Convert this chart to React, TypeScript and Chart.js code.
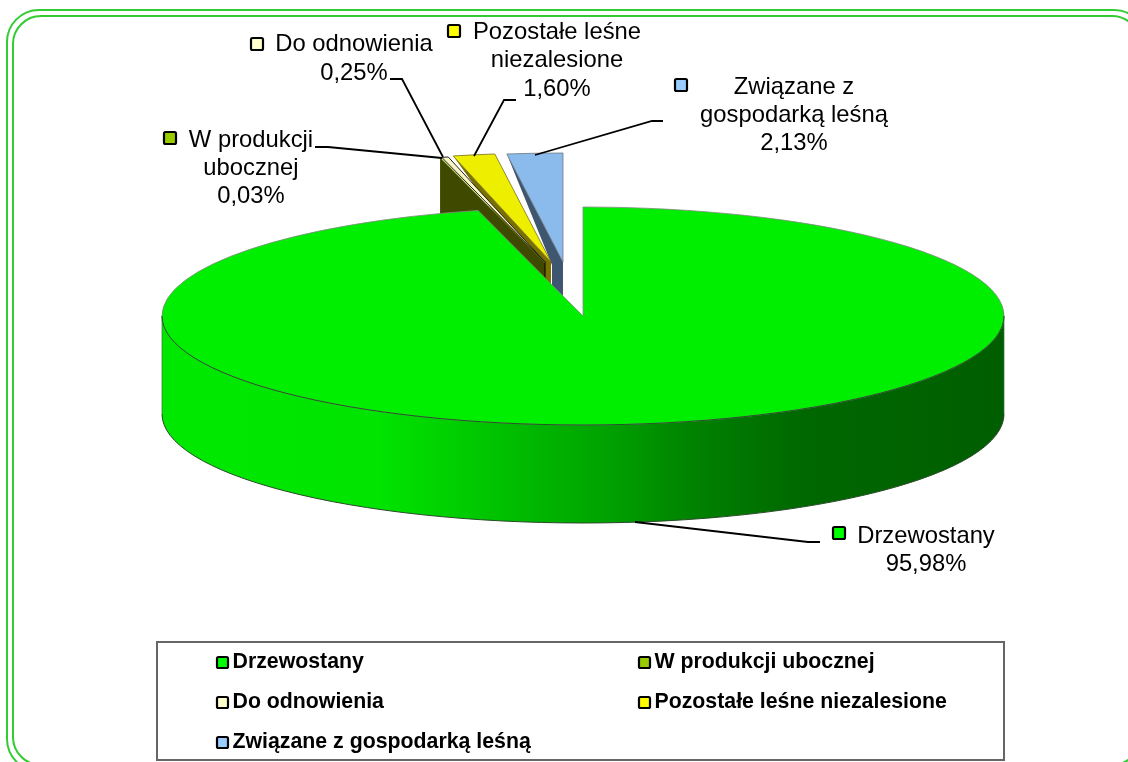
import React, { useEffect, useRef } from "react";
import { Chart, registerables } from "chart.js";

Chart.register(...registerables);

const categories = ["Drzewostany", "W produkcji ubocznej", "Do odnowienia", "Pozostałe leśne niezalesione", "Związane z gospodarką leśną"];
const values = [95.98, 0.03, 0.25, 1.6, 2.13];
const labelLines = [["Drzewostany"], ["W produkcji", "ubocznej"], ["Do odnowienia"], ["Pozostałe leśne", "niezalesione"], ["Związane z", "gospodarką leśną"]];
const topColors = ["#00EE00", "#99CC00", "#F8F4C4", "#EEEE00", "#8ABBEC"];
const markerColors = ["#00FF00", "#99CC00", "#FFFFCC", "#FFFF00", "#99CCFF"];
const wallColors = ["#00A000", "#3F4A00", "#3F4A00", "#7A7000", "#3F5670"];

// Style / layout settings
const RADIUS = 421;
const SQUASH = 109 / 421;
const DEPTH = 98;
const explode: [number, number][] = [[0, 0], [-38, -53], [-37, -53], [-32, -54], [-20, -54]];
const wallDrop = [0, 60, 0, 30, 40];
const wallStops: [number, string][] = [[162, "#00E800"], [380, "#00E400"], [450, "#00D000"], [530, "#00B800"], [600, "#00A400"], [700, "#008000"], [800, "#006800"], [1004, "#005E00"]];
const labelPos = [
  { cx: 926, y: 536, lh: 28, mx: 832, my: 526 },
  { cx: 251, y: 140, lh: 28, mx: 163, my: 131 },
  { cx: 354, y: 44, lh: 29, mx: 250, my: 37 },
  { cx: 557, y: 32, lh: 28.5, mx: 447, my: 24 },
  { cx: 794, y: 87, lh: 28, mx: 674, my: 78 },
];
const leaders: number[][][] = [
  [[820, 542], [808, 542], [635, 522]],
  [[315, 147], [328, 147], [442, 158]],
  [[390, 79], [402, 79], [443, 157]],
  [[516, 100], [504, 100], [474, 156]],
  [[663, 121], [652, 121], [535, 155]],
];
const legendCells = [
  [216, 662], [638, 662], [216, 702], [638, 702], [216, 742],
];

const FONT = '"Liberation Sans", Arial, sans-serif';

const pct = (v: number) => v.toFixed(2).replace(".", ",") + "%";

function marker(ctx: CanvasRenderingContext2D, x: number, y: number, s: number, c: string) {
  ctx.beginPath();
  ctx.roundRect(x + 1, y + 1, s - 2, s - 2, 1.5);
  ctx.fillStyle = c;
  ctx.fill();
  ctx.lineWidth = 2.2;
  ctx.strokeStyle = "#000";
  ctx.stroke();
}

const pie3d = {
  id: "pie3d",
  beforeDatasetsDraw(chart: any) {
    const ctx: CanvasRenderingContext2D = chart.ctx;
    const arcs = chart.getDatasetMeta(0).data;
    const R = arcs[0].outerRadius;
    const Ry = R * SQUASH;

    const drawArc = (i: number, extraY: number, fill?: any) => {
      const a = arcs[i];
      const base = a.options;
      if (fill) a.options = Object.assign(Object.create(base), { backgroundColor: fill });
      ctx.save();
      ctx.translate(a.x + explode[i][0], a.y + explode[i][1] + extraY);
      ctx.scale(1, SQUASH);
      ctx.translate(-a.x, -a.y);
      a.draw(ctx);
      ctx.restore();
      a.options = base;
    };
    const apex = (i: number) => [arcs[i].x + explode[i][0], arcs[i].y + explode[i][1]];
    const rim = (i: number, ang: number) => {
      const [x, y] = apex(i);
      return [x + R * Math.cos(ang), y + Ry * Math.sin(ang)];
    };
    const outline = (i: number, color: string, lw: number) => {
      const a = arcs[i];
      const [x, y] = apex(i);
      ctx.beginPath();
      ctx.moveTo(x, y);
      ctx.ellipse(x, y, R, Ry, 0, a.startAngle, a.endAngle);
      ctx.closePath();
      ctx.strokeStyle = color;
      ctx.lineWidth = lw;
      ctx.stroke();
    };
    const poly = (pts: number[][], color: string) => {
      ctx.beginPath();
      pts.forEach((p, k) => (k ? ctx.lineTo(p[0], p[1]) : ctx.moveTo(p[0], p[1])));
      ctx.closePath();
      ctx.fillStyle = color;
      ctx.fill();
    };

    // frame
    ctx.strokeStyle = "#33CC33";
    ctx.lineWidth = 2;
    ctx.beginPath();
    ctx.roundRect(7, 10, 1139, 761, 32);
    ctx.stroke();
    ctx.beginPath();
    ctx.roundRect(13, 16, 1127, 749, 28);
    ctx.stroke();

    // blue
    const blueA = apex(4);
    poly(
      [rim(4, arcs[4].startAngle), blueA, [blueA[0], blueA[1] + wallDrop[4]], [blueA[0] - 11, blueA[1] + wallDrop[4]], [blueA[0] - 11, blueA[1] + 3]],
      wallColors[4]
    );
    drawArc(4, 0);
    outline(4, "rgba(110,120,130,0.8)", 1);

    // yellow
    const yA = apex(3);
    poly([rim(3, arcs[3].startAngle), yA, [yA[0], yA[1] + wallDrop[3]]], wallColors[3]);
    drawArc(3, 0);
    outline(3, "rgba(120,110,30,0.8)", 1);

    // W produkcji wall, tops
    const wA = apex(1);
    const wR = rim(1, arcs[1].startAngle);
    poly([wR, wA, [wA[0], wA[1] + wallDrop[1]], [wR[0], wR[1] + wallDrop[1]]], wallColors[1]);
    ctx.beginPath();
    ctx.moveTo(wA[0], wA[1]);
    ctx.lineTo(wA[0], wA[1] + 16);
    ctx.strokeStyle = "#000";
    ctx.lineWidth = 1;
    ctx.stroke();
    drawArc(2, 0);
    outline(2, "#222", 1);
    drawArc(1, 0);

    // main wall
    const a0 = arcs[0];
    const grad = ctx.createLinearGradient(wallStops[0][0], 0, wallStops[wallStops.length - 1][0], 0);
    const span = wallStops[wallStops.length - 1][0] - wallStops[0][0];
    wallStops.forEach(([x, c]) => grad.addColorStop((x - wallStops[0][0]) / span, c));
    for (let d = DEPTH; d >= 1; d--) drawArc(0, d, grad);

    // wall outline
    ctx.beginPath();
    ctx.ellipse(a0.x, a0.y + DEPTH, R, Ry, 0, 0, Math.PI);
    ctx.strokeStyle = "#2A4A2A";
    ctx.lineWidth = 1;
    ctx.stroke();
    ctx.beginPath();
    ctx.moveTo(a0.x - R, a0.y);
    ctx.lineTo(a0.x - R, a0.y + DEPTH);
    ctx.moveTo(a0.x + R, a0.y);
    ctx.lineTo(a0.x + R, a0.y + DEPTH);
    ctx.strokeStyle = "rgba(60,110,60,0.7)";
    ctx.stroke();

    // main top
    drawArc(0, 0);
    outline(0, "rgba(130,140,130,0.8)", 1);
    ctx.beginPath();
    ctx.ellipse(a0.x, a0.y, R, Ry, 0, 0, Math.PI);
    ctx.strokeStyle = "#1F5A1F";
    ctx.lineWidth = 1;
    ctx.stroke();

    // leaders
    ctx.strokeStyle = "#000";
    ctx.lineWidth = 1.8;
    leaders.forEach((pts) => {
      ctx.beginPath();
      pts.forEach((p, k) => (k ? ctx.lineTo(p[0], p[1]) : ctx.moveTo(p[0], p[1])));
      ctx.stroke();
    });

    // data labels
    ctx.font = `23.8px ${FONT}`;
    ctx.textBaseline = "middle";
    ctx.textAlign = "center";
    labelLines.forEach((lines, i) => {
      const p = labelPos[i];
      [...lines, pct(values[i])].forEach((t, k) => {
        ctx.fillStyle = "#000";
        ctx.fillText(t, p.cx, p.y + k * p.lh);
      });
      marker(ctx, p.mx, p.my, 14, markerColors[i]);
    });

    // legend
    ctx.strokeStyle = "#666";
    ctx.lineWidth = 2;
    ctx.strokeRect(157, 642, 847, 118);
    ctx.font = `bold 21.3px ${FONT}`;
    ctx.textAlign = "left";
    categories.forEach((c, i) => {
      const [x, y] = legendCells[i];
      marker(ctx, x, y - 6, 13, markerColors[i]);
      ctx.fillStyle = "#000";
      ctx.fillText(c, x + 16.5, y);
    });
    return false;
  },
};

export default function App() {
  const ref = useRef<HTMLCanvasElement>(null);
  useEffect(() => {
    document.body.style.margin = "0";
    const chart = new Chart(ref.current!, {
      type: "pie",
      data: {
        labels: categories,
        datasets: [{ data: values, backgroundColor: topColors, borderWidth: 0 }],
      },
      options: {
        animation: false,
        responsive: false,
        events: [],
        radius: RADIUS,
        layout: { padding: { left: 38, bottom: 130 } },
        plugins: { legend: { display: false }, tooltip: { enabled: false } },
      },
      plugins: [pie3d as any],
    } as any);
    return () => chart.destroy();
  }, []);
  return (
    <div style={{ position: "absolute", left: 0, top: 0, width: 1128, height: 762, overflow: "hidden", background: "#fff" }}>
      <canvas ref={ref} width={1128} height={762} style={{ display: "block" }} />
    </div>
  );
}
